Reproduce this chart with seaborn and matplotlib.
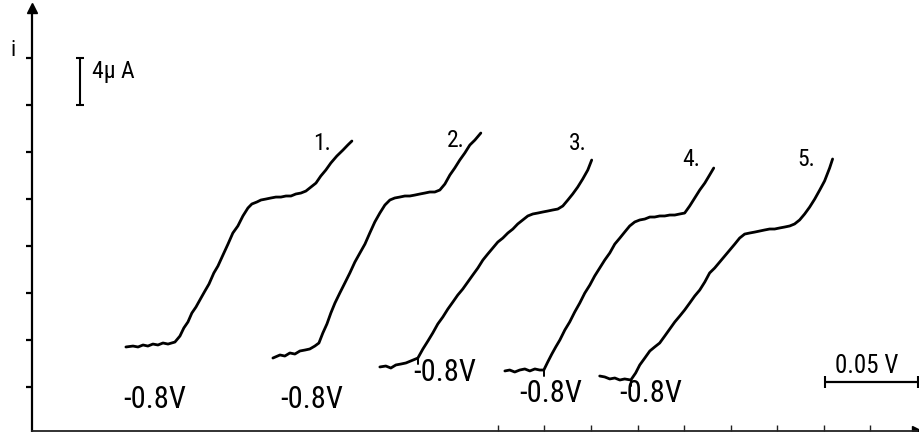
import matplotlib
matplotlib.use("Agg")
import matplotlib.pyplot as plt
import pandas as pd
import seaborn as sns

# Polarograms: potential offset along the recorder axis (mV) and current (µA)
e1 = [50.4, 54.2, 56.9, 59.6, 62.2, 64.9, 67.6, 70.3, 73.0, 76.7, 79.4, 81.5, 83.7, 85.8,
      88.0, 90.7, 92.8, 95.0, 97.6, 99.8, 102.5, 105.2, 107.8, 110.5, 113.2, 115.9, 118.0,
      120.7, 122.9, 125.5, 128.2, 130.9, 133.6, 136.3, 139.0, 141.6, 144.3, 147.0, 149.7,
      152.4, 155.0, 157.7, 160.4, 163.6, 166.9, 169.5, 171.7]
i1 = [7.15, 7.23, 7.15, 7.32, 7.23, 7.40, 7.32, 7.49, 7.40, 7.57, 8.08, 8.77, 9.28, 10.04,
      10.55, 11.32, 11.91, 12.51, 13.45, 14.04, 14.98, 15.91, 16.85, 17.45, 18.30, 18.98, 19.32,
      19.49, 19.66, 19.74, 19.83, 19.91, 19.91, 20.00, 20.00, 20.17, 20.25, 20.42, 20.76,
      21.10, 21.70, 22.21, 22.81, 23.40, 23.91, 24.34, 24.68]

e2 = [129.3, 133.1, 135.7, 138.4, 141.1, 143.8, 146.5, 149.1, 151.8, 154.0, 156.1, 158.3,
      160.4, 162.6, 165.2, 167.9, 170.6, 173.3, 176.0, 178.7, 181.3, 184.0, 186.7, 189.4,
      192.1, 194.7, 197.4, 200.1, 202.8, 205.5, 208.2, 210.8, 213.5, 216.2, 218.9, 221.6,
      224.3, 226.9, 229.6, 232.3, 235.0, 237.7, 240.9]
i2 = [6.21, 6.47, 6.38, 6.64, 6.55, 6.81, 6.89, 6.98, 7.23, 7.49, 8.34, 9.11,
      10.04, 10.89, 11.74, 12.59, 13.45, 14.38, 15.15, 15.91, 16.85, 17.79, 18.55, 19.23,
      19.66, 19.83, 19.91, 20.00, 20.00, 20.08, 20.17, 20.25, 20.34, 20.34, 20.51, 21.02,
      21.79, 22.38, 23.06, 23.66, 24.34, 24.76, 25.36]

e3 = [186.7, 189.9, 192.6, 195.3, 198.0, 200.7, 203.3, 207.1, 209.8, 212.5, 215.1, 217.8,
      220.5, 223.2, 225.9, 228.5, 231.2, 233.9, 236.6, 239.3, 242.0, 244.6, 247.3, 250.0,
      252.7, 255.4, 258.1, 260.7, 263.4, 266.1, 268.8, 271.5, 274.2, 276.8, 279.5, 282.2,
      284.9, 287.6, 290.2, 292.9, 295.6, 298.3, 300.4]
i3 = [5.45, 5.53, 5.36, 5.62, 5.70, 5.79, 5.96, 6.21, 6.98, 7.66, 8.34, 9.11,
      9.70, 10.38, 10.98, 11.57, 12.08, 12.68, 13.28, 13.87, 14.55, 15.06, 15.57, 16.08,
      16.42, 16.85, 17.19, 17.62, 17.96, 18.30, 18.47, 18.55, 18.64, 18.72, 18.81, 18.89,
      19.15, 19.66, 20.17, 20.76, 21.45, 22.21, 23.06]

e4 = [253.8, 256.4, 259.1, 261.8, 264.5, 267.2, 269.9, 272.5, 274.7, 276.8, 279.0, 281.1,
      283.3, 286.0, 288.6, 291.3, 294.0, 296.7, 299.4, 302.0, 304.7, 307.4, 310.1, 312.8,
      315.5, 318.1, 320.8, 323.5, 326.2, 328.9, 331.6, 334.2, 336.9, 339.6, 342.3, 345.0,
      347.7, 350.3, 353.0, 355.7, 358.4, 361.1, 363.7, 365.9]
i4 = [5.11, 5.19, 5.02, 5.19, 5.28, 5.11, 5.28, 5.19, 5.19, 5.87, 6.55, 7.15,
      7.74, 8.60, 9.28, 10.13, 10.89, 11.74, 12.42, 13.19, 13.87, 14.55, 15.15, 15.91,
      16.42, 16.93, 17.45, 17.79, 17.96, 18.04, 18.21, 18.21, 18.30, 18.30, 18.38, 18.38,
      18.47, 18.55, 19.15, 19.83, 20.51, 21.10, 21.79, 22.38]

e5 = [304.7, 307.4, 310.1, 312.8, 315.5, 318.1, 321.4, 324.0, 326.2, 328.9, 331.6, 334.2,
      336.9, 339.6, 342.3, 345.0, 347.7, 350.3, 353.0, 355.7, 358.4, 361.1, 363.7, 366.4,
      369.1, 371.8, 374.5, 377.2, 379.8, 382.5, 385.2, 387.9, 390.6, 393.3, 395.9, 398.6,
      401.3, 404.0, 406.7, 409.3, 412.0, 414.7, 417.4, 420.1, 422.8, 425.4, 428.1, 429.7]
i5 = [4.68, 4.60, 4.43, 4.51, 4.34, 4.43, 4.34, 4.94, 5.62, 6.21, 6.81, 7.15,
      7.49, 8.08, 8.68, 9.28, 9.79, 10.30, 10.89, 11.49, 12.00, 12.68, 13.45, 13.87,
      14.38, 14.89, 15.40, 15.91, 16.42, 16.76, 16.85, 16.93, 17.02, 17.11, 17.19, 17.19,
      17.28, 17.36, 17.45, 17.62, 17.96, 18.47, 19.06, 19.74, 20.51, 21.28, 22.38, 23.15]

curve_names = ["1.", "2.", "3.", "4.", "5."]
start_potential = "-0.8V"
current_scale = "4μ A"
potential_scale = "0.05 V"

curves = [(e1, i1), (e2, i2), (e3, i3), (e4, i4), (e5, i5)]
frames = []
for name, (e, i) in zip(curve_names, curves):
    frames.append(pd.DataFrame({"E": e, "i": i, "curve": name}))
df = pd.concat(frames, ignore_index=True)

sns.set_style("white")
plt.rcParams["font.family"] = ["Roboto Condensed", "DejaVu Sans"]

fig = plt.figure(figsize=(9.19, 4.32), dpi=100)
ax = fig.add_axes([32 / 919, 1 / 432, 885 / 919, 423 / 432])

sns.lineplot(data=df, x="E", y="i", units="curve", estimator=None, sort=False,
             color="black", lw=2.0, ax=ax, legend=False)

# short pen marks where curves 3-5 leave the baseline
kink_index = {2: 7, 3: 8, 4: 6}
for k, idx in kink_index.items():
    e, i = curves[k]
    ax.plot([e[idx], e[idx]], [i[idx], i[idx] - 0.5], color="black", lw=1.4)

ax.set_xlim(0, 475)
ax.set_ylim(0, 36)
ax.set_xlabel("")
ax.set_ylabel("")

for s in ("top", "right"):
    ax.spines[s].set_visible(False)
ax.spines["left"].set_color("black")
ax.spines["left"].set_linewidth(1.6)
ax.spines["bottom"].set_color("#222222")
ax.spines["bottom"].set_linewidth(1.3)

ax.set_yticks([3.75 + 4 * k for k in range(8)])
ax.set_xticks([250 + 25 * k for k in range(9)])
ax.tick_params(axis="y", left=True, direction="out", length=4, width=1.6, color="black",
               labelleft=False)
ax.tick_params(axis="x", bottom=True, direction="in", length=4, width=1.0, color="#222222",
               labelbottom=False)

# arrow heads on both axes
ax.plot([0], [1], marker="^", ms=7, color="black", transform=ax.transAxes, clip_on=False)
ax.plot([1], [0], marker=">", ms=7, color="black", transform=ax.transAxes, clip_on=False)

# curve numbers
number_pos = [(155.6, 24.5), (227.5, 24.7), (292.9, 24.5), (353.6, 23.1), (415.8, 23.1)]
for name, (x, y) in zip(curve_names, number_pos):
    ax.text(x, y, name, fontsize=17, ha="center", va="center", color="black")

# starting potential of each polarogram
start_pos = [(66.0, 2.72), (150.2, 2.72), (221.6, 4.94), (278.4, 3.15), (332.1, 3.15)]
for x, y in start_pos:
    ax.text(x, y, start_potential, fontsize=22, ha="center", va="center", color="black")

# current scale bar
ax.errorbar([25.75], [29.75], yerr=[[2.0], [2.0]], color="black", lw=1.5,
            capsize=3, capthick=1.5, clip_on=False)
ax.text(32.0, 30.6, current_scale, fontsize=17, ha="left", va="center", color="black")

# potential scale bar
ax.errorbar([450.4], [4.17], xerr=[[25.0], [25.0]], color="black", lw=1.6,
            capsize=4, capthick=1.5, clip_on=False)
ax.text(448.0, 5.55, potential_scale, fontsize=18, ha="center", va="center", color="black")

fig.text(13 / 919, 1 - 50 / 432, "i", fontsize=16, ha="center", va="center", color="black")

fig.savefig("out.png", dpi=100)
